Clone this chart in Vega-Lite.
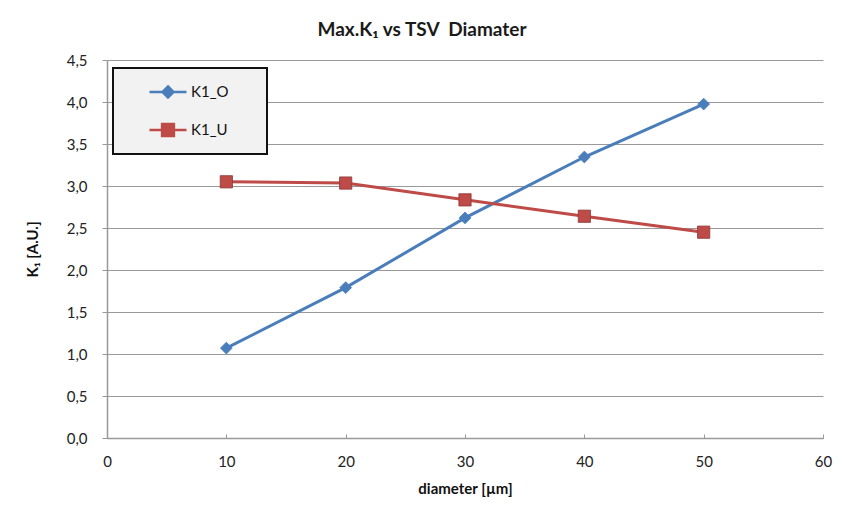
{
  "$schema": "https://vega.github.io/schema/vega-lite/v6.json",
  "width": 716,
  "height": 378,
  "autosize": {"type": "none"},
  "padding": {"left": 107, "top": 60, "right": 31, "bottom": 74},
  "background": "white",
  "config": {
    "font": "Lato",
    "view": {"stroke": null}
  },
  "title": {
    "text": "Max.K₁ vs TSV\u00a0\u00a0Diamater",
    "font": "Lato",
    "fontSize": 19,
    "fontWeight": "bold",
    "color": "#1a1a1a",
    "offset": 13,
    "dx": -43
  },
  "data": {
    "values": [
      {"diameter": 10, "K1": 1.07, "series": "K1_O"},
      {"diameter": 20, "K1": 1.79, "series": "K1_O"},
      {"diameter": 30, "K1": 2.62, "series": "K1_O"},
      {"diameter": 40, "K1": 3.345, "series": "K1_O"},
      {"diameter": 50, "K1": 3.975, "series": "K1_O"},
      {"diameter": 10, "K1": 3.05, "series": "K1_U"},
      {"diameter": 20, "K1": 3.035, "series": "K1_U"},
      {"diameter": 30, "K1": 2.835, "series": "K1_U"},
      {"diameter": 40, "K1": 2.64, "series": "K1_U"},
      {"diameter": 50, "K1": 2.45, "series": "K1_U"}
    ]
  },
  "encoding": {
    "x": {
      "field": "diameter",
      "type": "quantitative",
      "scale": {"domain": [0, 60], "nice": false, "zero": false},
      "axis": {
        "title": "diameter [µm]",
        "values": [0, 10, 20, 30, 40, 50, 60],
        "grid": false,
        "labelFlush": false,
        "domainColor": "#999999",
        "domainWidth": 1.5,
        "tickColor": "#999999",
        "tickSize": -4,
        "labelPadding": 20,
        "labelFontSize": 15,
        "labelColor": "#222222",
        "labelFont": "Lato",
        "titleFont": "Lato",
        "titleFontSize": 15,
        "titleFontWeight": "bold",
        "titleColor": "#111111",
        "titlePadding": 12
      }
    },
    "y": {
      "field": "K1",
      "type": "quantitative",
      "scale": {"domain": [0, 4.5], "nice": false},
      "axis": {
        "title": "K₁ [A.U.]",
        "values": [0, 0.5, 1, 1.5, 2, 2.5, 3, 3.5, 4, 4.5],
        "labelExpr": "replace(format(datum.value, '.1f'), '.', ',')",
        "labelFlush": false,
        "grid": true,
        "gridColor": "#999999",
        "gridWidth": 1.2,
        "domainColor": "#999999",
        "domainWidth": 1.5,
        "tickColor": "#999999",
        "tickSize": 5,
        "labelPadding": 15,
        "labelFontSize": 15,
        "labelColor": "#222222",
        "labelFont": "Lato",
        "titleFont": "Lato",
        "titleFontSize": 15,
        "titleFontWeight": "bold",
        "titleColor": "#111111",
        "titlePadding": 26
      }
    },
    "color": {
      "field": "series",
      "type": "nominal",
      "scale": {"domain": ["K1_O", "K1_U"], "range": ["#4a7ebb", "#be4b48"]},
      "legend": {
        "title": "\u2800",
        "titleOrient": "bottom",
        "titleFontSize": 9,
        "titlePadding": 0,
        "orient": "none",
        "legendX": 6,
        "legendY": 8,
        "padding": 4,
        "fillColor": "#f2f2f2",
        "strokeColor": "#111111",
        "symbolSize": 1369,
        "symbolOffset": 31,
        "labelOffset": 3,
        "rowPadding": 7,
        "labelFontSize": 15,
        "labelFont": "Lato",
        "labelColor": "#111111",
        "labelExpr": "datum.label + '\u2003\u2003\u2800'",
        "encode": {
          "legend": {
            "update": {
              "strokeWidth": {"value": 2}
            }
          },
          "symbols": {
            "update": {
              "shape": {"signal": "datum.value === 'K1_O' ? 'M-1,0L1,0M0,-0.3L0.3,0L0,0.3L-0.3,0Z' : 'M-1,0L1,0M-0.32,-0.32L0.32,-0.32L0.32,0.32L-0.32,0.32Z'"},
              "stroke": {"signal": "datum.value === 'K1_O' ? '#4a7ebb' : '#be4b48'"},
              "fill": {"signal": "datum.value === 'K1_O' ? '#4a7ebb' : '#be4b48'"},
              "strokeWidth": {"signal": "2.5"},
              "opacity": {"signal": "1"},
              "fillOpacity": {"signal": "1"},
              "strokeOpacity": {"signal": "1"}
            }
          }
        }
      }
    }
  },
  "layer": [
    {
      "mark": {"type": "line", "strokeWidth": 3},
      "encoding": {}
    },
    {
      "transform": [{"filter": "datum.series === 'K1_O'"}],
      "mark": {"type": "point", "shape": "diamond", "size": 140, "filled": true, "opacity": 1, "stroke": "#4a7ebb", "strokeWidth": 0.8}
    },
    {
      "transform": [{"filter": "datum.series === 'K1_U'"}],
      "mark": {"type": "point", "shape": "square", "size": 150, "filled": true, "opacity": 1, "stroke": "#8c3836", "strokeWidth": 0.8}
    }
  ]
}
